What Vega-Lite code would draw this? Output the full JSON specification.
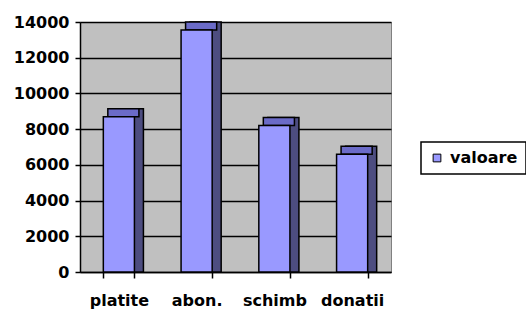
{
  "$schema": "https://vega.github.io/schema/vega-lite/v6.json",
  "width": 311,
  "height": 250,
  "autosize": "none",
  "padding": {"left": 80, "top": 22, "right": 135, "bottom": 40},
  "background": "white",
  "config": {
    "font": "DejaVu Sans",
    "view": {"fill": "#C0C0C0", "stroke": "#808080", "strokeWidth": 1},
    "legend": {"strokeWidth": 1.5}
  },
  "data": {
    "values": [
      {"categorie": "platite", "valoare": 8700, "serie": "valoare"},
      {"categorie": "abon.", "valoare": 13550, "serie": "valoare"},
      {"categorie": "schimb", "valoare": 8200, "serie": "valoare"},
      {"categorie": "donatii", "valoare": 6600, "serie": "valoare"}
    ]
  },
  "encoding": {
    "x": {
      "field": "categorie",
      "type": "nominal",
      "sort": null,
      "scale": {"paddingInner": 0.6, "paddingOuter": 0.3},
      "axis": {
        "title": null,
        "labelAngle": 0,
        "labelFontSize": 16,
        "labelFontWeight": "bold",
        "labelColor": "black",
        "labelPadding": 14,
        "tickBand": "extent",
        "tickColor": "black",
        "tickSize": 6,
        "tickWidth": 1.5,
        "domainColor": "black",
        "domainWidth": 1.5
      }
    },
    "y": {
      "field": "valoare",
      "type": "quantitative",
      "scale": {"domain": [0, 14000], "nice": false},
      "axis": {
        "title": null,
        "format": "d",
        "values": [0, 2000, 4000, 6000, 8000, 10000, 12000, 14000],
        "labelFontSize": 16,
        "labelFontWeight": "bold",
        "labelColor": "black",
        "labelPadding": 6,
        "tickColor": "black",
        "tickSize": 5,
        "tickWidth": 1.5,
        "domainColor": "black",
        "domainWidth": 1.5,
        "gridColor": "black",
        "gridWidth": 1.5
      }
    }
  },
  "layer": [
    {
      "mark": {"type": "bar", "color": "#4D4D80", "stroke": "black", "strokeWidth": 1.5, "xOffset": 9, "x2Offset": 9, "yOffset": -8, "y2Offset": 0},
      "encoding": {"y2": {"datum": 0}}
    },
    {
      "mark": {"type": "bar", "color": "#6B6BC8", "stroke": "black", "strokeWidth": 1.5, "xOffset": 4.5, "x2Offset": 4.5, "yOffset": -8, "y2Offset": 0},
      "encoding": {"y2": {"field": "valoare"}}
    },
    {
      "mark": {"type": "bar", "stroke": "black", "strokeWidth": 1.5},
      "encoding": {
        "fill": {
          "field": "serie",
          "type": "nominal",
          "scale": {"range": ["#9999FF"]},
          "legend": {
            "title": null,
            "orient": "none",
            "legendX": 341,
            "legendY": 120,
            "padding": 8,
            "strokeColor": "black",
            "fillColor": "white",
            "labelFontSize": 16,
            "labelFontWeight": "bold",
            "labelColor": "black",
            "labelOffset": 5,
            "symbolType": "square",
            "symbolSize": 60,
            "symbolStrokeColor": "black",
            "symbolStrokeWidth": 1
          }
        }
      }
    }
  ]
}
